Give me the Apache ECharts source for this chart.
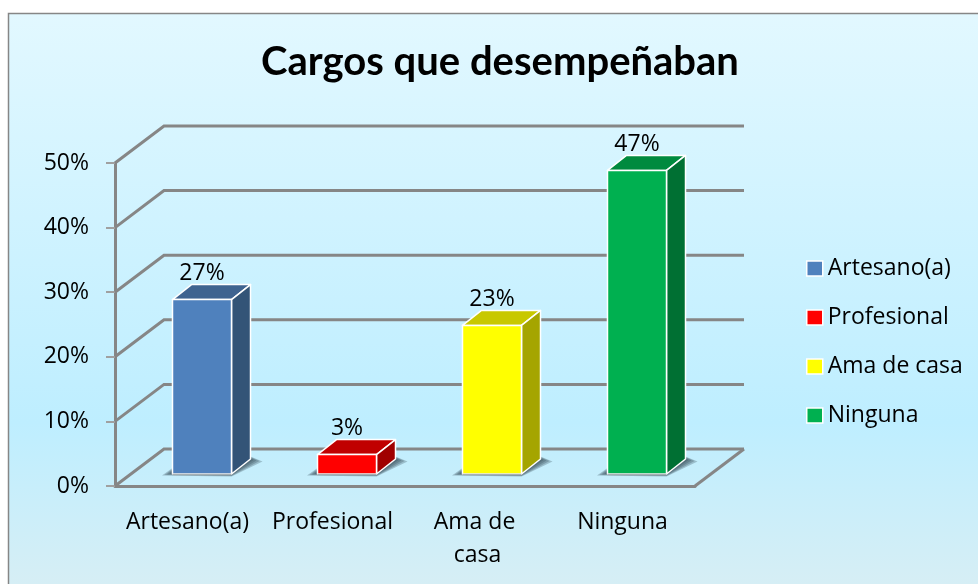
<!DOCTYPE html>
<html><head><meta charset="utf-8">
<style>html,body{margin:0;padding:0;background:#fff}#c{width:978px;height:584px}</style>
<script src="https://cdn.jsdelivr.net/npm/echarts@6/dist/echarts.min.js"></script>
</head><body><div id="c"></div>
<script>
var titleText = 'Cargos que desempeñaban';
var categories = ['Artesano(a)', 'Profesional', 'Ama de casa', 'Ninguna'];
var values = [27, 3, 23, 47];
var valueTicks = [0, 10, 20, 30, 40, 50];
var frontColors = ['#4F81BD', '#FF0000', '#FFFF00', '#00B050'];
var topColors = ['#3E6390', '#C00000', '#C8C800', '#008A3E'];
var sideColors = ['#335477', '#A00000', '#A5A500', '#007033'];

var FONT = '"Open Sans", sans-serif';
var FS = 23, GRID = '#868686';
var WALL_DX = 49, WALL_DY = -37;      // depth of the chart box
var BAR_DX = 19, BAR_DY = -15;        // depth of a bar
var SHIFT_DX = 14.5, SHIFT_DY = -12;  // bar position inside the box
var BAR_RATIO = 0.407;
var SHADOW_LAYERS = [3, 2, 1, 0];

function wallItem(params, api) {
  var cs = params.coordSys;
  var v = api.value(0);
  var y = api.coord([0, v])[1];
  var x0 = cs.x, x1 = cs.x + cs.width;
  var ls = {stroke: GRID, lineWidth: 3, fill: null};
  var kids = [
    {type: 'polyline', shape: {points: [[x0, y], [x0 + WALL_DX, y + WALL_DY], [x1 + WALL_DX, y + WALL_DY]]}, style: ls}
  ];
  if (v === 0) kids.push({type: 'line', shape: {x1: x1, y1: y, x2: x1 + WALL_DX, y2: y + WALL_DY}, style: ls});
  return {type: 'group', children: kids};
}

function barItem(color, top, side) {
  return function (params, api) {
    var base = api.coord([api.value(0), 0]);
    var tip = api.coord([api.value(0), api.value(1)]);
    var w = api.size([1, 0])[0] * BAR_RATIO;
    var xl = base[0] + SHIFT_DX - w / 2, xr = xl + w;
    var yb = base[1] + SHIFT_DY, yt = tip[1] + SHIFT_DY;
    function st(fill) { return {fill: fill, stroke: '#fff', lineWidth: 1.5, lineJoin: 'round'}; }
    var kids = SHADOW_LAYERS.map(function (k) {
      return {type: 'polygon',
        shape: {points: [
          [xl - 3 - 2.5 * k, yb + 0.5 * k],
          [xr, yb + 1 + 0.5 * k],
          [xr + BAR_DX + 3 + 3 * k, yb + BAR_DY + 1 + 0.5 * k],
          [xr + BAR_DX, yb + BAR_DY - 1 - 0.5 * k],
          [xl, yb - 3 - k]]},
        style: {fill: 'rgba(45,70,80,0.28)'}};
    });
    return {type: 'group', children: kids.concat([
      {type: 'polygon', shape: {points: [[xl, yt], [xr, yt], [xr + BAR_DX, yt + BAR_DY], [xl + BAR_DX, yt + BAR_DY]]}, style: st(top)},
      {type: 'polygon', shape: {points: [[xr, yt], [xr + BAR_DX, yt + BAR_DY], [xr + BAR_DX, yb + BAR_DY], [xr, yb]]}, style: st(side)},
      {type: 'rect', shape: {x: xl, y: yt, width: w, height: yb - yt}, style: st(color)},
      {type: 'line', shape: {x1: xl, y1: yb + 0.5, x2: xr, y2: yb + 0.5}, style: {stroke: '#A6B0B4', lineWidth: 1.5}},
      {type: 'text', style: {text: api.value(1) + '%', x: xl + w / 2, y: yt - 26, align: 'center', verticalAlign: 'middle',
        fill: '#000', font: FS + 'px ' + FONT}}
    ])};
  };
}

var series = [{
  type: 'custom', z: 1, silent: true,
  data: valueTicks.map(function (t) { return [t]; }),
  encode: {y: 0},
  renderItem: wallItem
}];
categories.forEach(function (name, i) {
  series.push({
    type: 'custom', name: name, z: 2,
    data: [[i, values[i]]],
    encode: {x: 0, y: 1},
    itemStyle: {color: frontColors[i]},
    renderItem: barItem(frontColors[i], topColors[i], sideColors[i])
  });
});

var chart = echarts.init(document.getElementById('c'), null, {renderer: 'canvas'});
chart.setOption({
  animation: false,
  backgroundColor: '#fff',
  title: {text: titleText, left: 495, top: 57, textAlign: 'center', textVerticalAlign: 'middle',
    textStyle: {fontFamily: 'Lato, sans-serif', fontSize: 40, fontWeight: 'bold', color: '#000'}},
  graphic: [{type: 'rect', z: -10, silent: true,
    shape: {x: 8.5, y: 13.5, width: 990, height: 600},
    style: {stroke: GRID, lineWidth: 1.5,
      fill: new echarts.graphic.LinearGradient(0, 0, 0, 1, [
        {offset: 0, color: '#E2F8FF'}, {offset: 0.68, color: '#BEEEFF'}, {offset: 0.95, color: '#D6EEF5'}, {offset: 1, color: '#D6EEF5'}])}}],
  legend: {
    orient: 'vertical', left: 801, top: 252, itemWidth: 16, itemHeight: 15, itemGap: 26,
    textStyle: {fontFamily: FONT, fontSize: FS, color: '#000', lineHeight: 20, padding: [0, 0, 0, 0]},
    data: categories.map(function (n, i) {
      return {name: n, icon: 'rect', itemStyle: {color: frontColors[i], borderColor: '#fff', borderWidth: 1.5}};
    })
  },
  grid: {left: 115, top: 163, width: 580, height: 323, containLabel: false},
  xAxis: {
    type: 'category', data: categories,
    axisLine: {lineStyle: {color: GRID, width: 3}},
    axisTick: {show: false},
    axisLabel: {color: '#000', fontFamily: FONT, fontSize: FS, margin: 20, width: 132, overflow: 'break', lineHeight: 33, interval: 0}
  },
  yAxis: {
    type: 'value', min: 0, max: 50, interval: 10,
    axisLine: {show: true, lineStyle: {color: GRID, width: 3}},
    axisTick: {show: true, length: 9, lineStyle: {color: '#A0A0A0', width: 2}},
    axisLabel: {color: '#000', fontFamily: FONT, fontSize: FS, margin: 26, padding: [10, 0, 0, 0], formatter: '{value}%'},
    splitLine: {show: false}
  },
  series: series
});
</script></body></html>
